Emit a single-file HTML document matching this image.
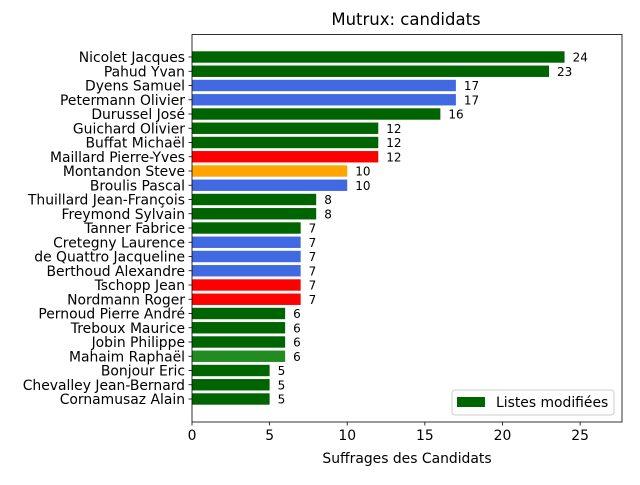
<!DOCTYPE html>
<html><head><meta charset="utf-8"><style>
body{margin:0;background:#fff;font-family:"Liberation Sans","DejaVu Sans",sans-serif;}
svg text{font-family:"DejaVu Sans","Liberation Sans",sans-serif;}
</style></head><body>
<svg id="chart" width="640" height="480" xmlns="http://www.w3.org/2000/svg"></svg>
<script>
const names=["Nicolet Jacques","Pahud Yvan","Dyens Samuel","Petermann Olivier","Durussel José","Guichard Olivier","Buffat Michaël","Maillard Pierre-Yves","Montandon Steve","Broulis Pascal","Thuillard Jean-François","Freymond Sylvain","Tanner Fabrice","Cretegny Laurence","de Quattro Jacqueline","Berthoud Alexandre","Tschopp Jean","Nordmann Roger","Pernoud Pierre André","Treboux Maurice","Jobin Philippe","Mahaim Raphaël","Bonjour Eric","Chevalley Jean-Bernard","Cornamusaz Alain"];
const values=[24,23,17,17,16,12,12,12,10,10,8,8,7,7,7,7,7,7,6,6,6,6,5,5,5];
const colors=["#006400","#006400","#4169e1","#4169e1","#006400","#006400","#006400","#ff0000","#ffa500","#4169e1","#006400","#006400","#006400","#4169e1","#4169e1","#4169e1","#ff0000","#ff0000","#006400","#006400","#006400","#228b22","#006400","#006400","#006400"];
const xTicks=[0,5,10,15,20,25];
const NS="http://www.w3.org/2000/svg";
const svg=document.getElementById('chart');
const L=192,R=622,T=34.5,B=422,xmax=27.7;
const n=names.length;
const step=(399-57)/(n-1);
const x=v=>L+v/xmax*(R-L);
const y=i=>57+i*step;
function mk(tag,a,txt){const e=document.createElementNS(NS,tag);for(const k in a)e.setAttribute(k,a[k]);if(txt!==undefined)e.textContent=txt;svg.appendChild(e);return e;}
let t=mk('text',{x:406,y:25,'text-anchor':'middle','font-size':16.5,fill:'#000'},'Mutrux: candidats');


names.forEach((nm,i)=>{
 const bh=step*0.8;
 let r=mk('rect',{x:x(0),y:y(i)-bh/2,width:x(values[i])-x(0),height:bh,fill:colors[i]});
 
 
 let v=mk('text',{x:x(values[i])+8,y:y(i)+4.5,'font-size':12,fill:'#000'},String(values[i]));
 
 
 let tk=mk('line',{x1:L-3.5,x2:L,y1:y(i),y2:y(i),stroke:'#000','stroke-width':0.8});
 
 
 let lb=mk('text',{x:L-7,y:y(i)+5,'text-anchor':'end','font-size':13.9,fill:'#000'},nm);
 
 
});
xTicks.forEach(v=>{
 let tk=mk('line',{x1:x(v),x2:x(v),y1:B,y2:B+3.5,stroke:'#000','stroke-width':0.8});
 
 
 let lb=mk('text',{x:x(v),y:B+18,'text-anchor':'middle','font-size':13.9,fill:'#000'},String(v));
 
 
});
let fr=mk('rect',{x:L,y:T,width:R-L,height:B-T,fill:'none',stroke:'#000','stroke-width':0.8});


let xt=mk('text',{x:(L+R)/2,y:463,'text-anchor':'middle','font-size':13.9,fill:'#000'},'Suffrages des Candidats');


let lg=mk('rect',{x:452,y:390,width:162,height:25,rx:3,fill:'#fff','fill-opacity':0.8,stroke:'#ccc','stroke-width':1});


let ls=mk('rect',{x:457,y:397,width:28,height:10,fill:'#006400'});


let lt=mk('text',{x:496,y:407,'font-size':13.9,fill:'#000'},'Listes modifiées');


</script>
</body></html>
